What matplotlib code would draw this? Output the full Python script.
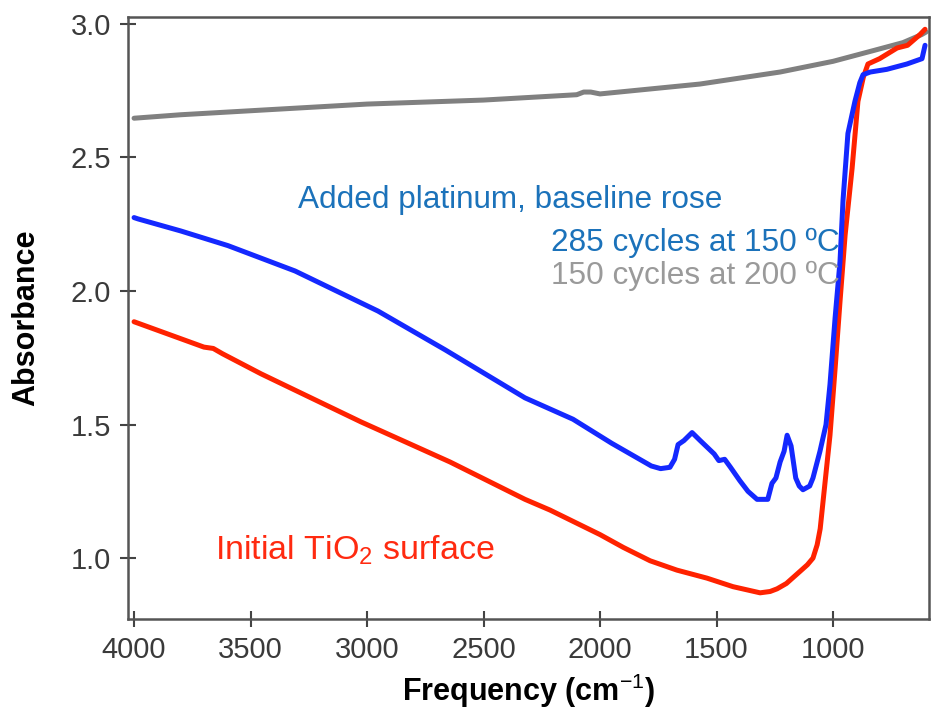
import matplotlib
matplotlib.use("Agg")
import matplotlib.pyplot as plt
import numpy as np

plt.rcParams['font.family'] = ['Liberation Sans', 'DejaVu Sans']
plt.rcParams['mathtext.fontset'] = 'custom'
plt.rcParams['mathtext.rm'] = 'Liberation Sans'
plt.rcParams['mathtext.it'] = 'Liberation Sans:italic'
plt.rcParams['mathtext.bf'] = 'Liberation Sans:bold'

# ---- data ----
gray_x = [4000, 3800, 3500, 3000, 2500, 2100, 2070, 2040, 2000, 1571, 1227, 1142, 1000, 828, 700, 620, 600]
gray_y = [2.647, 2.66, 2.675, 2.70, 2.715, 2.735, 2.745, 2.745, 2.738, 2.775, 2.82, 2.835, 2.86, 2.90, 2.93, 2.96, 2.97]

blue_x = [4000, 3983, 3800, 3597, 3309, 2953, 2665, 2322, 2116, 1950, 1850, 1780, 1740, 1700, 1680, 1665,
          1640, 1605, 1570, 1540, 1510, 1490, 1465, 1440, 1400, 1365, 1326, 1280, 1262, 1245, 1227,
          1210, 1197, 1180, 1160, 1145, 1129, 1100, 1086, 1056, 1030, 1013, 991, 970, 957, 936, 906,
          885, 871, 840, 769, 683, 618, 605]
blue_y = [2.275, 2.27, 2.225, 2.17, 2.075, 1.925, 1.78, 1.60, 1.52, 1.43, 1.38, 1.345, 1.335, 1.34, 1.37, 1.425,
          1.44, 1.47, 1.44, 1.415, 1.39, 1.365, 1.37, 1.34, 1.29, 1.25, 1.22, 1.22, 1.28, 1.30, 1.36,
          1.40, 1.46, 1.42, 1.30, 1.27, 1.256, 1.27, 1.30, 1.40, 1.50, 1.65, 1.90, 2.11, 2.34, 2.59, 2.71,
          2.78, 2.81, 2.82, 2.83, 2.85, 2.87, 2.92]

red_x = [4000, 3700, 3660, 3620, 3455, 3026, 2644, 2322, 2215, 2000, 1900, 1785, 1670, 1541, 1429, 1313,
         1270, 1240, 1200, 1142, 1110, 1086, 1068, 1055, 1043, 1013, 991, 970, 948, 918, 893, 870, 850,
         800, 725, 680, 627, 605]
red_y = [1.885, 1.79, 1.785, 1.765, 1.69, 1.51, 1.36, 1.22, 1.18, 1.088, 1.04, 0.99, 0.955, 0.925, 0.893, 0.87,
         0.875, 0.885, 0.905, 0.95, 0.975, 1.0, 1.05, 1.11, 1.21, 1.46, 1.71, 1.96, 2.21, 2.46, 2.71, 2.80, 2.85,
         2.87, 2.91, 2.92, 2.96, 2.98]

x_ticks = [4000, 3500, 3000, 2500, 2000, 1500, 1000]
y_ticks = [1.0, 1.5, 2.0, 2.5, 3.0]

fig = plt.figure(figsize=(9.32, 7.14), dpi=100)
ax = fig.add_axes([128/932, 1 - 619/714, (929-128)/932, (619-17)/714])

lw = 3.6
ax.plot(gray_x, gray_y, color='#808080', lw=lw, solid_capstyle='round', solid_joinstyle='round')
ax.plot(red_x, red_y, color='#ff2200', lw=lw, solid_capstyle='round', solid_joinstyle='round')
ax.plot(blue_x, blue_y, color='#1428ff', lw=lw, solid_capstyle='round', solid_joinstyle='round')

ax.set_xlim(4026, 588)
ax.set_ylim(0.772, 3.026)
ax.set_xticks(x_ticks)
ax.set_xticklabels([str(v) for v in x_ticks])
ax.set_yticks(y_ticks)
ax.set_yticklabels([f"{v:.1f}" for v in y_ticks])

for s in ax.spines.values():
    s.set_color('#555555')
    s.set_linewidth(1.8)
ax.tick_params(direction='inout', length=12, width=1.5, color='#444444',
               labelsize=21, labelcolor='#3a3a3a')
ax.tick_params(axis='x', pad=6)
ax.tick_params(axis='y', pad=6)

ax.set_xlabel(r"Frequency (cm$^{\mathrm{-1}}$)", fontsize=22, fontweight='bold', color='black')
ax.set_ylabel("Absorbance", fontsize=22, fontweight='bold', color='black')
ax.xaxis.set_label_coords(0.5, -0.087)
ax.yaxis.set_label_coords(-0.108, 0.5)

fs = 22.7
ax.text(3296, 2.309, "Added platinum, baseline rose", color='#1b72ba', fontsize=fs, ha='left', va='baseline')
ax.text(970, 2.148, "285 cycles at 150 ºC", color='#1b72ba', fontsize=fs, ha='right', va='baseline')
ax.text(970, 2.028, "150 cycles at 200 ºC", color='#9a9a9a', fontsize=fs, ha='right', va='baseline')
ax.text(3652, 0.994, r"Initial TiO$_2$ surface", color='#ff2a10', fontsize=24.5, ha='left', va='baseline')

fig.savefig("out.png", dpi=100)
